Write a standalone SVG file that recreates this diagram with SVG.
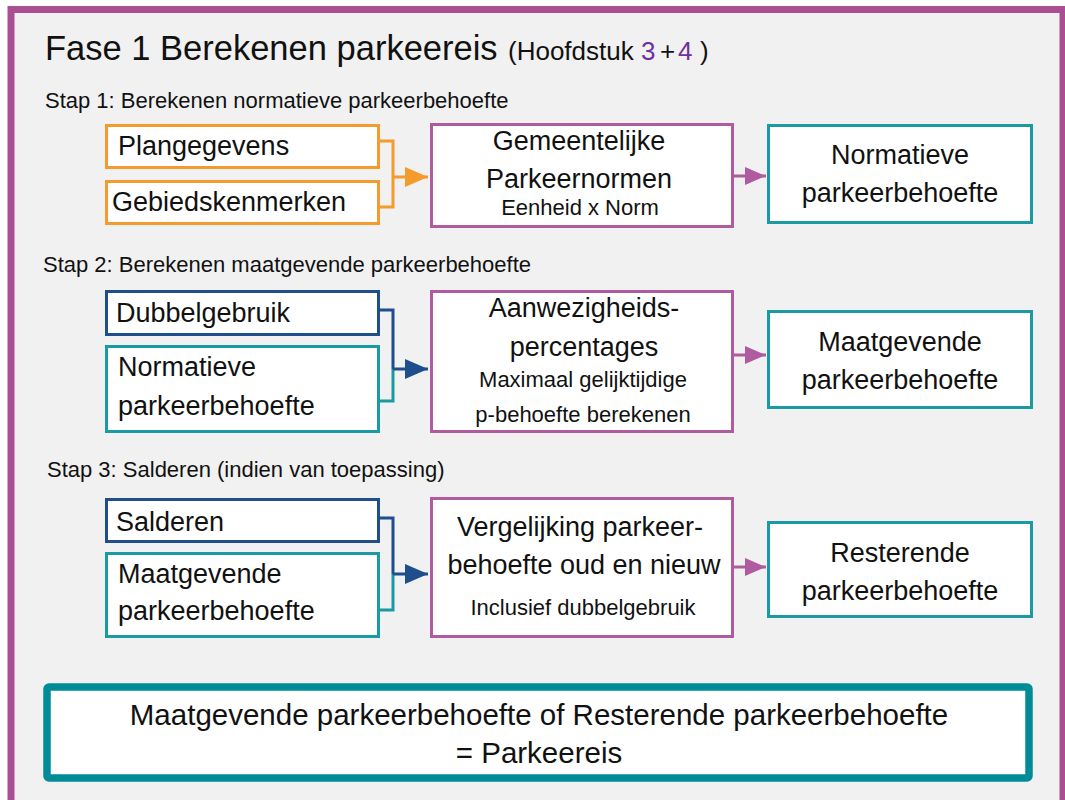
<svg xmlns="http://www.w3.org/2000/svg" width="1065" height="800" viewBox="0 0 1065 800">
<defs>
<style>
text{font-family:"Liberation Sans",Arial,sans-serif;fill:#111}
.box{fill:#fff;stroke-width:3}
.or{stroke:#f59a2c}
.pu{stroke:#b05aa0}
.te{stroke:#1a9aa3}
.nv{stroke:#1f4e8c}
.t26{font-size:27px}
.t21{font-size:22px}
.st{font-size:22px}
.c{text-anchor:middle}
.ln{fill:none;stroke-width:3}
.hv{fill:#7030a0}
</style>
<marker id="aO" markerWidth="23" markerHeight="20" refX="23" refY="10" orient="auto" markerUnits="userSpaceOnUse" viewBox="0 0 23 20"><path d="M0,0 L23,10 L0,20 z" fill="#f59a2c"/></marker>
<marker id="aN" markerWidth="23" markerHeight="20" refX="23" refY="10" orient="auto" markerUnits="userSpaceOnUse" viewBox="0 0 23 20"><path d="M0,0 L23,10 L0,20 z" fill="#1f4e8c"/></marker>
<marker id="aP" markerWidth="21" markerHeight="18" refX="21" refY="9" orient="auto" markerUnits="userSpaceOnUse" viewBox="0 0 21 18"><path d="M0,0 L21,9 L0,18 z" fill="#b05aa0"/></marker>
</defs>
<rect x="0" y="0" width="1065" height="800" fill="#ffffff"/>
<rect x="11" y="9.5" width="1052" height="800" fill="#f1f1f1" stroke="#a94f92" stroke-width="7"/>

<g id="title">
<text x="45" y="60" style="font-size:34.5px">Fase 1 Berekenen parkeereis</text>
<text y="60" style="font-size:26px"><tspan x="508">(Hoofdstuk</tspan><tspan x="641" class="hv">3</tspan><tspan x="660">+</tspan><tspan x="678" class="hv">4</tspan><tspan x="700">)</tspan></text>
</g>
<g id="step1-label"><text class="st" x="45" y="108">Stap 1: Berekenen normatieve parkeerbehoefte</text></g>
<g id="step2-label"><text class="st" x="43" y="272">Stap 2: Berekenen maatgevende parkeerbehoefte</text></g>
<g id="step3-label"><text class="st" x="47" y="477">Stap 3: Salderen (indien van toepassing)</text></g>

<g id="connectors">
<path class="ln or" d="M379,141 H393 V207 H379"/>
<path class="ln or" d="M393,177 H428" marker-end="url(#aO)"/>
<path class="ln pu" d="M733,176 H766" marker-end="url(#aP)"/>
<path class="ln nv" d="M379,310 H393 V369"/>
<path class="ln te" d="M393,369 V401 H379"/>
<path class="ln nv" d="M393,369 H428" marker-end="url(#aN)"/>
<path class="ln pu" d="M733,355 H766" marker-end="url(#aP)"/>
<path class="ln nv" d="M379,518 H393 V574"/>
<path class="ln te" d="M393,574 V610 H379"/>
<path class="ln nv" d="M393,574 H428" marker-end="url(#aN)"/>
<path class="ln pu" d="M733,567 H766" marker-end="url(#aP)"/>
</g>

<g id="plangegevens"><rect class="box or" x="106.5" y="125.5" width="272" height="42"/><text class="t26" x="118" y="155">Plangegevens</text></g>
<g id="gebiedskenmerken"><rect class="box or" x="106.5" y="181.5" width="272" height="42"/><text class="t26" x="112" y="211">Gebiedskenmerken</text></g>
<g id="gemeentelijke"><rect class="box pu" x="431.5" y="124.5" width="301" height="102"/>
<text class="t26 c" x="579" y="150">Gemeentelijke</text><text class="t26 c" x="579" y="188">Parkeernormen</text><text class="t21 c" x="580" y="215">Eenheid x Norm</text></g>
<g id="normatieve1"><rect class="box te" x="768.5" y="125.5" width="263" height="97"/>
<text class="t26 c" x="900" y="164">Normatieve</text><text class="t26 c" x="900" y="202">parkeerbehoefte</text></g>

<g id="dubbelgebruik"><rect class="box nv" x="106.5" y="291.5" width="272" height="43"/><text class="t26" x="116" y="322">Dubbelgebruik</text></g>
<g id="normatieve2"><rect class="box te" x="106.5" y="346.5" width="272" height="85"/><text class="t26" x="118" y="376">Normatieve</text><text class="t26" x="118" y="415">parkeerbehoefte</text></g>
<g id="aanwezigheid"><rect class="box pu" x="431.5" y="291.5" width="301" height="140"/>
<text class="t26 c" x="584" y="317">Aanwezigheids-</text><text class="t26 c" x="584" y="356">percentages</text><text class="t21 c" x="583" y="387">Maximaal gelijktijdige</text><text class="t21 c" x="583" y="422">p-behoefte berekenen</text></g>
<g id="maatgevende1"><rect class="box te" x="768.5" y="311.5" width="263" height="96"/>
<text class="t26 c" x="900" y="351">Maatgevende</text><text class="t26 c" x="900" y="389">parkeerbehoefte</text></g>

<g id="salderen"><rect class="box nv" x="106.5" y="499.5" width="272" height="42"/><text class="t26" x="116" y="531">Salderen</text></g>
<g id="maatgevende2"><rect class="box te" x="106.5" y="553.5" width="272" height="83"/><text class="t26" x="118" y="583">Maatgevende</text><text class="t26" x="118" y="620">parkeerbehoefte</text></g>
<g id="vergelijking"><rect class="box pu" x="431.5" y="498.5" width="301" height="138"/>
<text class="t26 c" x="580" y="536">Vergelijking parkeer-</text><text class="t26 c" x="584" y="574">behoefte oud en nieuw</text><text class="t21 c" x="583" y="615">Inclusief dubbelgebruik</text></g>
<g id="resterende"><rect class="box te" x="768.5" y="522.5" width="263" height="94"/>
<text class="t26 c" x="900" y="562">Resterende</text><text class="t26 c" x="900" y="600">parkeerbehoefte</text></g>

<g id="parkeereis"><rect x="47" y="687" width="982" height="91" fill="#fff" stroke="#008c96" stroke-width="7.5" rx="2"/>
<text class="c" style="font-size:29.5px" x="539" y="725">Maatgevende parkeerbehoefte of Resterende parkeerbehoefte</text>
<text class="c" style="font-size:29.5px" x="539" y="763">= Parkeereis</text></g>
</svg>
